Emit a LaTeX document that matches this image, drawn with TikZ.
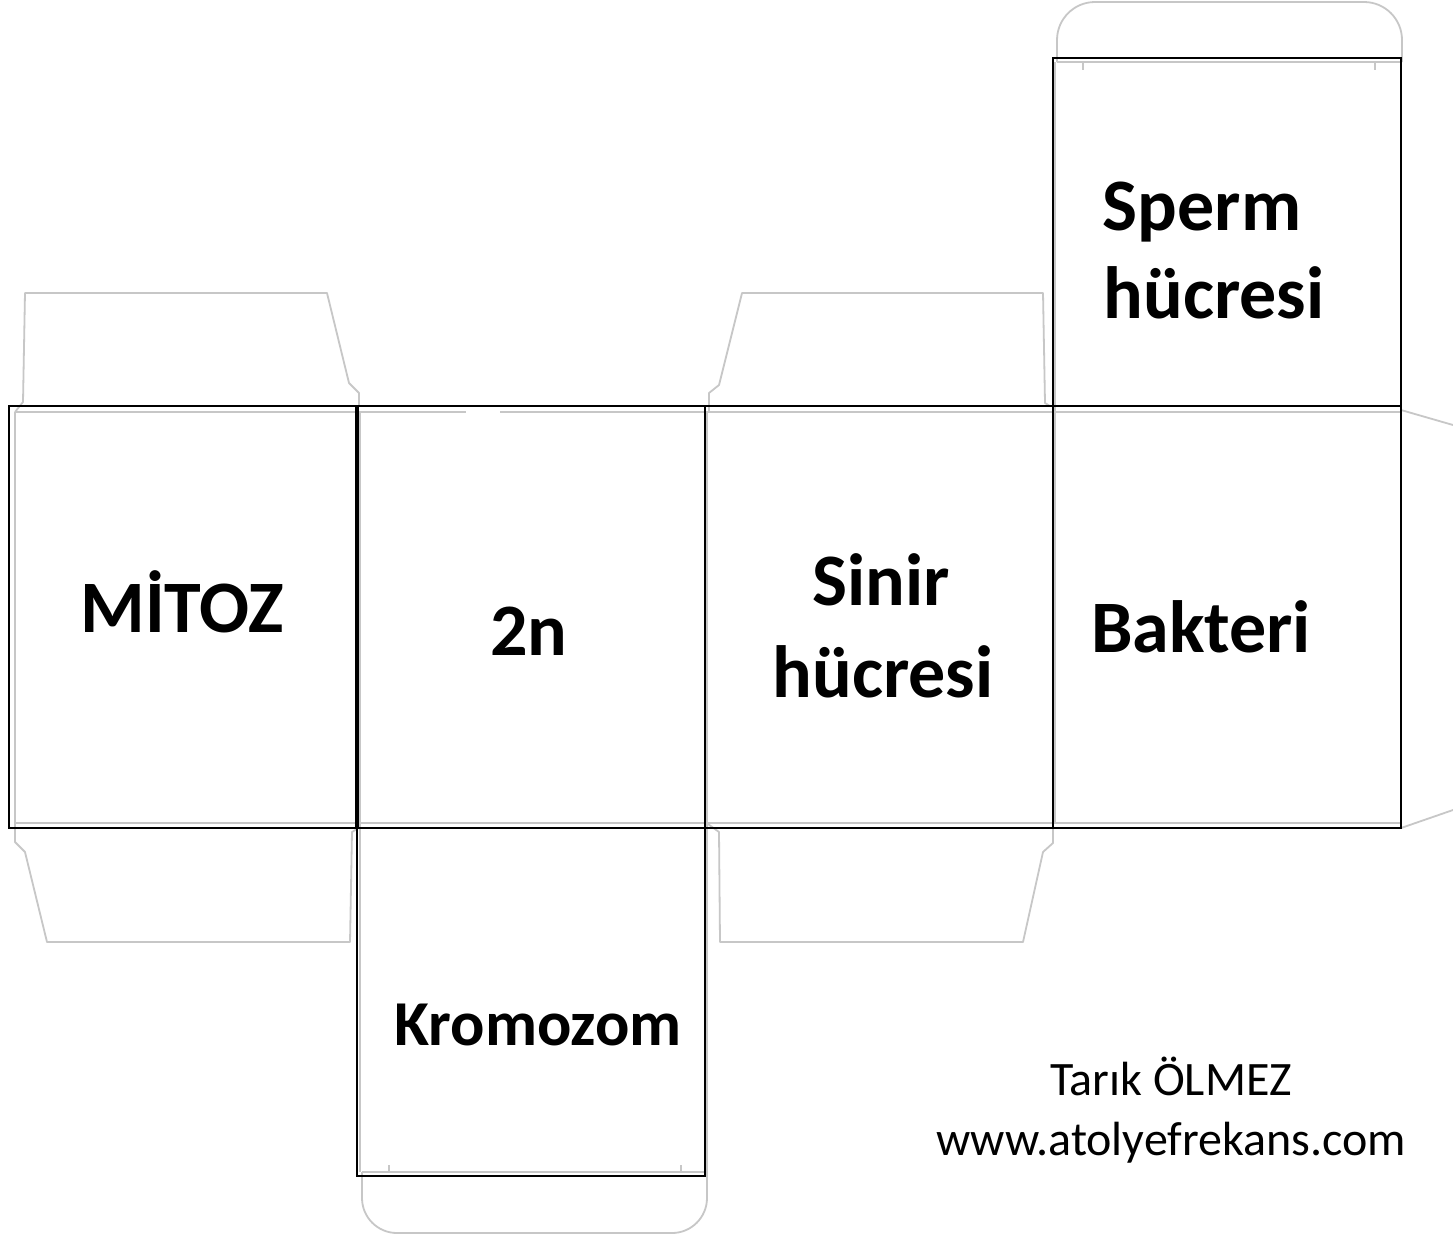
\documentclass[tikz,border=0pt]{standalone}
\usepackage{fontspec}
\setmainfont{Carlito}
\begin{document}
\begin{tikzpicture}[x=1pt,y=-1pt,
  fold/.style={draw=black!22, line width=1.8pt, line join=round},
  cut/.style={draw=black, line width=1.8pt},
  big/.style={anchor=base, inner sep=0pt, font=\fontsize{74}{86}\selectfont\bfseries},
  sign/.style={anchor=base, inner sep=0pt, font=\fontsize{48}{56}\selectfont}]
\useasboundingbox[fill=white] (0,0) rectangle (1453,1235);
% gray flaps and fold lines
\draw[fold] (15,412) -- (23,402) -- (25,293) -- (327,293) -- (349,383) -- (359,393) -- (359,406);
\draw[fold] (709,412) -- (709,393) -- (719,385) -- (742,293) -- (1043,293) -- (1045,403) -- (1050,406);
\draw[fold] (15,823) -- (15,842) -- (25,852) -- (47,942) -- (350,942) -- (352,832) -- (357,829);
\draw[fold] (708,824) -- (719,832) -- (720,942) -- (1023,942) -- (1043,852) -- (1053,843) -- (1053,828);
\draw[fold] (15,412) -- (466,412);
\draw[fold] (500,412) -- (1401,412);
\draw[fold] (15,412) -- (15,823) -- (1401,823);
\draw[fold] (360,412) -- (360,1172);
\draw[fold] (707,412) -- (707,1172);
\draw[fold] (1055,62) -- (1055,823);
\draw[fold] (1401,410) -- (1453,425);
\draw[fold] (1401,828) -- (1453,810);
\draw[fold, rounded corners=38pt] (1057,62) -- (1057,2) -- (1402,2) -- (1402,62);
\draw[fold] (1057,62) -- (1402,62);
\draw[fold] (1083,62) -- (1083,70);
\draw[fold] (1375,62) -- (1375,70);
\draw[fold, rounded corners=35pt] (362,1172) -- (362,1233) -- (707,1233) -- (707,1172);
\draw[fold] (362,1172) -- (705,1172);
\draw[fold] (389,1172) -- (389,1165);
\draw[fold] (681,1172) -- (681,1165);
% black outlines
\draw[cut] (9,406) rectangle (357,828);
\draw[cut] (357,406) rectangle (705,828);
\draw[cut] (705,406) rectangle (1053,828);
\draw[cut] (1053,406) rectangle (1401,828);
\draw[cut] (1053,58) rectangle (1401,406);
\draw[cut] (357,828) rectangle (705,1176);
\draw[draw=black, line width=3.5pt] (357,406) -- (357,828);
% labels
\node[big] (mitoz) at (182,632) {MİTOZ};
\node[big] (twon) at (529,655) {2n};
\node[big] (sinir1) at (881,605) {Sinir};
\node[big] (sinir2) at (883,697) {hücresi};
\node[big] (bakteri) at (1201,652) {Bakteri};
\node[big] (sperm1) at (1202,230) {Sperm};
\node[big] (sperm2) at (1214,318) {hücresi};
\node[big, font=\fontsize{64}{72}\selectfont\bfseries] (kromo) at (538,1045) {Kromozom};
\node[sign] (author) at (1171,1095) {Tarık ÖLMEZ};
\node[sign] (web) at (1171,1155) {www.atolyefrekans.com};
\end{tikzpicture}
\end{document}
